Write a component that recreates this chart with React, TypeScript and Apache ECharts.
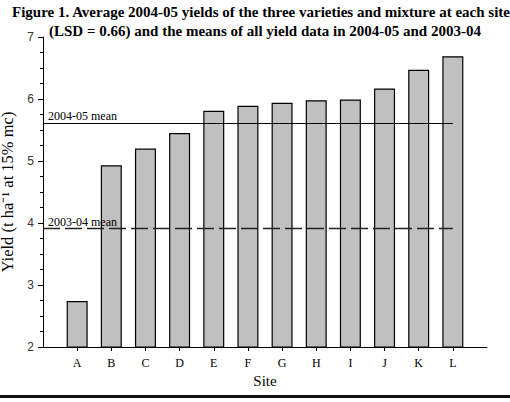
import React, { useEffect, useRef } from "react";
import * as echarts from "echarts";

const sites = ["A", "B", "C", "D", "E", "F", "G", "H", "I", "J", "K", "L"];
const yields = [2.74, 4.93, 5.2, 5.45, 5.81, 5.89, 5.94, 5.98, 5.99, 6.17, 6.47, 6.69];
const mean0405 = 5.61;
const mean0304 = 3.91;
const titleLines = [
  "Figure 1. Average 2004-05 yields of the three varieties and mixture at each site",
  "(LSD = 0.66) and the means of all yield data in 2004-05 and 2003-04",
];

export default function App() {
  const ref = useRef<HTMLDivElement>(null);
  useEffect(() => {
    document.body.style.margin = "0";
    const chart = echarts.init(ref.current!, null, { renderer: "svg" });
    const cats = ["", ...sites, ""];
    const barData = [null, ...yields, null];
    const serif = "Liberation Serif";
    const meanLabel = (text: string) => ({
      show: true,
      position: "insideStartTop",
      distance: [5, 1],
      formatter: text,
      fontFamily: serif,
      fontSize: 12,
      color: "#000",
    });
    chart.setOption({
      animation: false,
      backgroundColor: "#ffffff",
      grid: { left: 43, right: 23, top: 37, bottom: 55, outerBoundsMode: "none", containLabel: false },
      graphic: [
        {
          type: "text",
          left: 12,
          top: 4,
          style: { text: titleLines[0], font: `bold 15px ${serif}`, fill: "#000" },
        },
        {
          type: "text",
          left: 49,
          top: 23,
          style: { text: titleLines[1], font: `bold 15px ${serif}`, fill: "#000" },
        },
        {
          type: "rect",
          shape: { x: 0, y: 395, width: 510, height: 3 },
          style: { fill: "#111" },
        },
      ],
      xAxis: {
        type: "category",
        data: cats,
        boundaryGap: false,
        name: "Site",
        nameLocation: "middle",
        nameGap: 26,
        nameTextStyle: { fontFamily: serif, fontSize: 15, color: "#000" },
        axisLine: { lineStyle: { color: "#000", width: 1 } },
        axisTick: {
          length: 4,
          interval: (i: number) => i > 0 && i < cats.length - 1,
          lineStyle: { color: "#000" },
        },
        axisLabel: {
          interval: 0,
          margin: 10,
          fontFamily: serif,
          fontSize: 12,
          color: "#000",
        },
        splitLine: { show: false },
      },
      yAxis: {
        type: "value",
        min: 2,
        max: 7,
        interval: 1,
        name: "Yield (t ha\u207B\u00B9 at 15% mc)",
        nameLocation: "middle",
        nameGap: 23,
        nameTextStyle: { fontFamily: serif, fontSize: 16.5, color: "#000" },
        axisLine: { show: true, lineStyle: { color: "#000", width: 1 } },
        axisTick: { show: true, length: 5, lineStyle: { color: "#000" } },
        minorTick: { show: true, splitNumber: 4, length: 3, lineStyle: { color: "#000" } },
        axisLabel: {
          margin: 9,
          fontFamily: "Liberation Sans",
          fontSize: 12,
          color: "#333",
        },
        splitLine: { show: false },
      },
      series: [
        {
          type: "bar",
          data: barData,
          barWidth: 21,
          itemStyle: { color: "#c0c0c0", borderColor: "#000", borderWidth: 1.2 },
          markLine: {
            silent: true,
            symbol: "none",
            data: [
              [
                {
                  coord: [0, mean0405],
                  lineStyle: { color: "#000", width: 1, type: "solid" },
                  label: meanLabel("2004-05 mean"),
                },
                { coord: [12, mean0405] },
              ],
              [
                {
                  coord: [0, mean0304],
                  lineStyle: { color: "#222", width: 1.3, type: [17, 5] },
                  label: meanLabel("2003-04 mean"),
                },
                { coord: [12, mean0304] },
              ],
            ],
          },
        },
      ],
    });
    return () => chart.dispose();
  }, []);
  return <div ref={ref} style={{ width: 510, height: 402 }} />;
}
